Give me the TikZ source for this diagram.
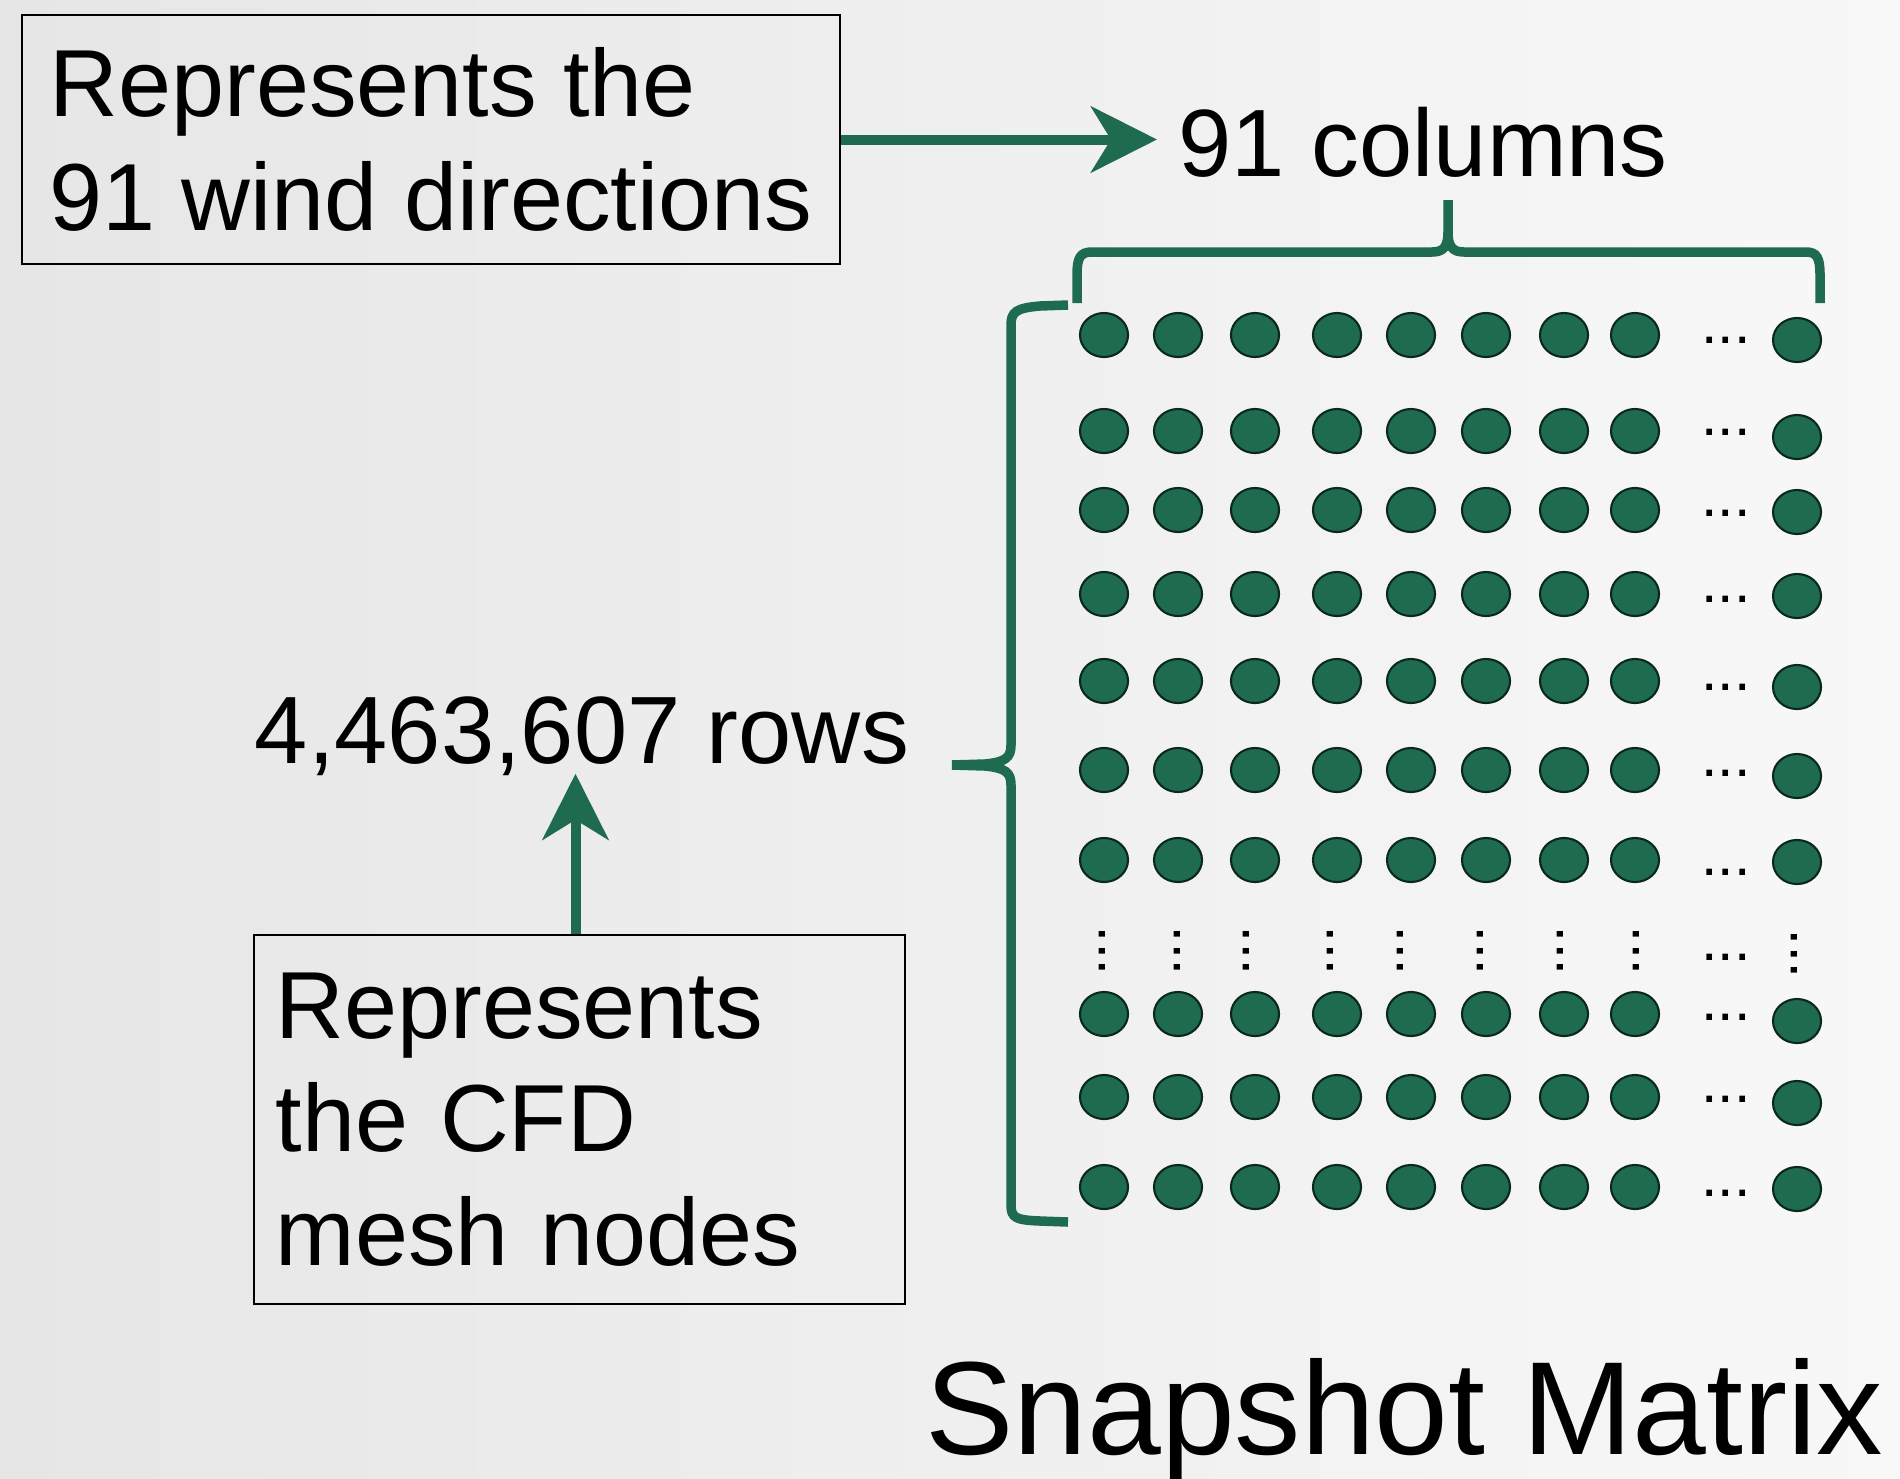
\documentclass[tikz,border=0pt]{standalone}
\usepackage{fontspec}
\setmainfont{Liberation Sans}
\usetikzlibrary{arrows.meta,shapes.geometric}
\definecolor{matgreen}{RGB}{31,107,80}
\definecolor{dotline}{RGB}{10,40,28}
\definecolor{bgl}{RGB}{230,230,230}
\definecolor{bgr}{RGB}{248,248,248}
\tikzset{
  txt/.style={font=\fontsize{27.2}{32.3}\selectfont, inner sep=0pt},
  box/.style={draw=black, line width=0.6pt, align=left, font=\fontsize{27.1}{32.3}\selectfont},
  arr/.style={draw=matgreen, line width=0.1cm, -{Stealth[length=0.66cm,width=0.66cm,inset=0.2cm]}},
  brc/.style={draw=matgreen, line width=0.095cm},
  dot/.style={ellipse, draw=dotline, fill=matgreen, line width=0.6pt, minimum width=0.48cm, minimum height=0.44cm, inner sep=0pt},
  ell/.style={font=\fontsize{16.8}{20}\selectfont, inner sep=0pt}
}
\begin{document}
\begin{tikzpicture}[x=0.01cm,y=-0.01cm]
\useasboundingbox (0,0) rectangle (1900,1478);
\fill[left color=bgl,right color=bgr] (0,0) rectangle (1900,1478);
\node[box, minimum width=8.18cm, minimum height=2.49cm, inner xsep=0.2cm] (wind) at (431,139.5) {Represents the\\91 wind directions};
\node[txt, anchor=base west, inner xsep=0.21cm] (cols) at (1157,176) {91 columns};
\draw[arr] (wind.east) -- (wind.east -| cols.west);
\node[box, minimum width=6.51cm, minimum height=3.69cm, text width=6.07cm, inner xsep=0.22cm] (cfd) at (579.5,1119.5) {Represents\\the CFD\\mesh nodes};
\node[txt, anchor=base, inner ysep=0.1cm, text depth=0pt] (rows) at (582,763) {4,463,607 rows};
\draw[arr] ([xshift=-0.04cm]cfd.north) -- ([xshift=-0.04cm]cfd.north |- rows.south);
\node[font=\fontsize{37.7}{45}\selectfont, inner sep=0pt, anchor=base east] (title) at (1884,1454) {Snapshot Matrix};
\draw[brc] (1077,303) -- (1077,275) .. controls (1077,258) and (1080,252) .. (1092,252) -- (1432,252) .. controls (1444,252) and (1448,246) .. (1448,232) -- (1448,200)
  (1448,232) .. controls (1448,246) and (1452,252) .. (1464,252) -- (1806,252) .. controls (1817,252) and (1820,258) .. (1820,275) -- (1820,303);
\draw[brc] (1068,305) -- (1040,306) .. controls (1016,308) and (1011,312) .. (1011,325) -- (1011,745) .. controls (1011,758) and (1005,762) .. (985,764) -- (952,765)
  -- (985,766) .. controls (1005,768) and (1011,772) .. (1011,785) -- (1011,1205) .. controls (1011,1218) and (1016,1220) .. (1040,1221) -- (1068,1222);
\foreach \y/\yl/\ye [count=\r] in {335/340/340, 431/437/432, 510/512/513, 594/596/599, 681/687/687, 770/776/773, 860/862/872, 1014/1021/1017, 1097/1103/1099, 1187/1189/1193}{
  \foreach \x [count=\c] in {1104,1178,1255,1337,1411,1486,1564,1635}
    \node[dot] (d\r-\c) at (\x,\y) {};
  \node[ell] (h\r) at (1726,\ye) {...};
  \node[dot] (d\r-n) at (1797,\yl) {};
}
\foreach \x [count=\c] in {1102,1177,1246,1330,1400,1480,1560,1636}
  \node[ell, rotate=90] (v\c) at (\x,951) {...};
\node[ell] (hv) at (1726,957) {...};
\node[ell, rotate=90] (vn) at (1794,954) {...};
\end{tikzpicture}
\end{document}
